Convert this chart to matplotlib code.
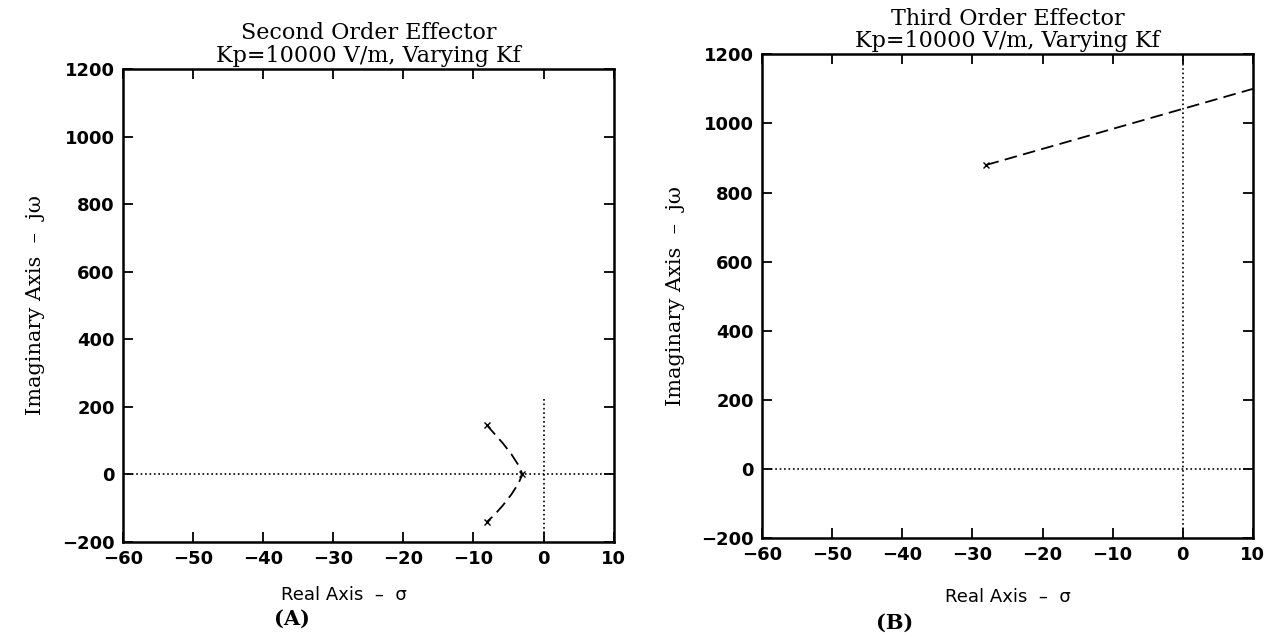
import matplotlib
matplotlib.use('Agg')
import matplotlib.pyplot as plt

# left panel: second order effector root locus
locus_a_re = [-8.1, -7.0, -5.8, -4.6, -3.6, -3.0, -3.6, -4.6, -5.8, -7.0, -8.1]
locus_a_im = [146, 120, 92, 60, 28, 0, -28, -60, -92, -120, -141]
poles_a_re = [-8.1, -8.1, -3.0]
poles_a_im = [146, -141, 0]

# right panel: third order effector root locus
locus_b_re = [-28, 10]
locus_b_im = [880, 1100]
poles_b_re = [-28]
poles_b_im = [880]

x_ticks = [-60, -50, -40, -30, -20, -10, 0, 10]
y_ticks = [-200, 0, 200, 400, 600, 800, 1000, 1200]

titles = ['Second Order Effector\nKp=10000 V/m, Varying Kf',
          'Third Order Effector\nKp=10000 V/m, Varying Kf']
tags = ['(A)', '(B)']

fig = plt.figure(figsize=(12.81, 6.39), dpi=100)
ax_a = fig.add_axes([0.096, 0.152, 0.383, 0.740])
ax_b = fig.add_axes([0.595, 0.158, 0.383, 0.757])

serif = ['DejaVu Serif']


def style(ax, title, tag, vline_top, xlab_pos, tag_pos):
    ax.set_xlim(-60, 10)
    ax.set_ylim(-200, 1200)
    ax.set_xticks(x_ticks)
    ax.set_yticks(y_ticks)
    ax.tick_params(direction='in', top=True, right=True, length=7, width=1.3,
                   labelsize=13, pad=6)
    for lab in ax.get_xticklabels() + ax.get_yticklabels():
        lab.set_fontweight('bold')
    for sp in ax.spines.values():
        sp.set_linewidth(1.8)
    ax.plot([-60, 10], [0, 0], color='black', linestyle=':', linewidth=1.2)
    ax.plot([0, 0], [-200, vline_top], color='black', linestyle=':', linewidth=1.2)
    ax.set_title(title, fontsize=16, family=serif, linespacing=1.05, pad=5)
    ax.set_ylabel('Imaginary Axis  \u2013  j\u03c9', fontsize=15, family=serif, labelpad=12)
    ax.text(xlab_pos[0], xlab_pos[1], 'Real Axis  \u2013  \u03c3', transform=ax.transAxes,
            fontsize=13, ha='center', va='center')
    ax.text(tag_pos[0], tag_pos[1], tag, transform=ax.transAxes, fontsize=15,
            fontweight='bold', family=serif, ha='center', va='center')


ax_a.plot(locus_a_re, locus_a_im, color='black', linestyle=(0, (7, 3.5)), linewidth=1.3)
ax_a.plot(poles_a_re, poles_a_im, linestyle='none', marker='x', color='black',
          markersize=5, markeredgewidth=1)
style(ax_a, titles[0], tags[0], 226, (0.45, -0.112), (0.345, -0.163))

ax_b.plot(locus_b_re, locus_b_im, color='black', linestyle=(0, (7, 3.5)), linewidth=1.3)
ax_b.plot(poles_b_re, poles_b_im, linestyle='none', marker='x', color='black',
          markersize=5, markeredgewidth=1)
style(ax_b, titles[1], tags[1], 1200, (0.50, -0.122), (0.27, -0.176))

fig.savefig('out.png', dpi=100)
